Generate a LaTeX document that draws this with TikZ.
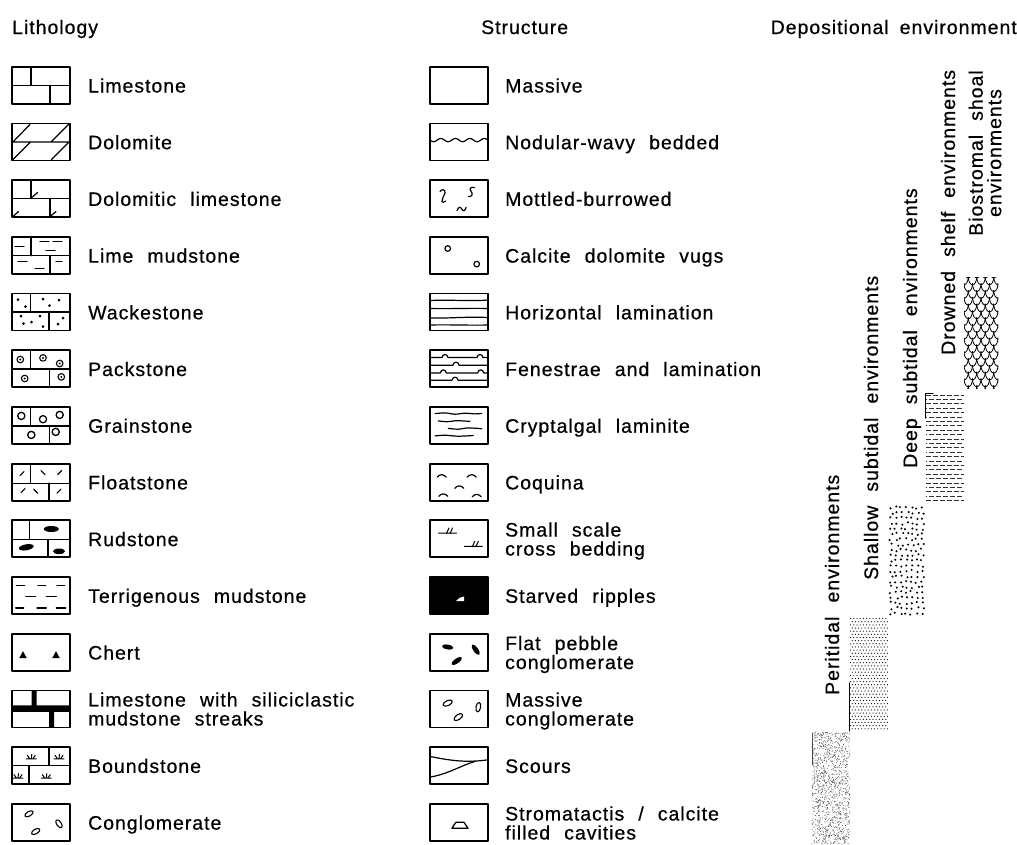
\documentclass[tikz,border=0pt]{standalone}
\usepackage{fontspec}
\setmainfont{Liberation Sans}[LetterSpace=5,WordSpace=2.2,FakeBold=0.6]
\newcommand\brk[3]{\draw[ln] (0,#1)--(58,#1) (#2,0)--(#2,#1) (#3,#1)--(#3,37);}
\newcommand\dt[2]{\fill (#1,#2) circle (1.5);}
\newcommand\pring[2]{\draw[line width=1.1pt] (#1,#2) circle (3.3); \fill (#1,#2) circle (1.1);}
\newcommand\gring[2]{\draw[line width=1.3pt] (#1,#2) circle (3.6);}
\newcommand\fsl[3]{\draw[line width=1.2pt] (#1-2,#2+2*#3) -- (#1+2,#2-2*#3);}
\newcommand\hd[3]{\draw[ln] (#1,#3)--(#2,#3);}
\newcommand\tuft[2]{\draw[line width=1pt] (#1-5,#2)--(#1+5,#2) (#1-1.5,#2)--(#1-4,#2-3.5) (#1,#2)--(#1+0.5,#2-4.5) (#1+1.5,#2)--(#1+4,#2-3.5);}
\newcommand\xbed[2]{\draw[line width=1pt] (#1-9,#2)--(#1+9,#2) (#1-1,#2+0.5) .. controls (#1,#2-2) .. (#1+1.5,#2-5) (#1+2.5,#2+0.5) .. controls (#1+3.5,#2-2) .. (#1+5,#2-5);}
\newcommand\carc[2]{\draw[ln] (#1-4.5,#2+1.2) .. controls (#1-2,#2-2) and (#1+2,#2-2) .. (#1+4.5,#2+1.2);}
\begin{document}
\begin{tikzpicture}[x=1pt,y=-1pt,
  line cap=round, line join=round,
  box/.style={line width=1.8pt},
  ln/.style={line width=1.2pt},
  lrow/.style={shift={(12,#1)}},
  srow/.style={shift={(430,#1)}},
  lab/.style={font=\fontsize{19.5}{19}\selectfont, inner sep=0pt, anchor=base west},
  labtwo/.style={font=\fontsize{19.5}{19}\selectfont, inner sep=0pt, anchor=west, align=left},
  head/.style={font=\fontsize{19.5}{19}\selectfont, inner sep=0pt},
  env/.style={font=\fontsize{19.5}{19}\selectfont, inner sep=0pt, rotate=90, anchor=base west},
  envtwo/.style={font=\fontsize{19.5}{18.5}\selectfont, inner sep=0pt, rotate=90, anchor=center, align=center}]
\useasboundingbox (0,0) rectangle (1017,844);

% headings
\node[head, anchor=base west] (hlit) at (12,34) {Lithology};
\node[head, anchor=base west] (hstr) at (481,34) {Structure};
\node[head, anchor=base east] (hdep) at (1017,34) {Depositional\hskip 11pt environment};

% ---------- Lithology symbols ----------
\begin{scope}[lrow=66.7]
  \draw[box] (0,0) rectangle (58,37); \brk{18.5}{19}{38}
\end{scope}
\begin{scope}[lrow=123.4]
  \draw[box] (0,0) rectangle (58,37);
  \draw[ln] (0,18.5)--(58,18.5) (1,18.5)--(18,1) (39,18.5)--(56.5,1) (1,36)--(18.5,18.5) (39.5,36)--(57,18.5);
\end{scope}
\begin{scope}[lrow=180.1]
  \draw[box] (0,0) rectangle (58,37); \brk{18.5}{19}{38}
  \draw[ln] (19,18)--(25.5,12.5) (0.8,36.5)--(6.5,31.5) (38,36.5)--(44,31.5);
\end{scope}
\begin{scope}[lrow=236.8]
  \draw[box] (0,0) rectangle (58,37); \brk{19}{19}{38}
  \hd{3}{12}{10} \hd{28}{37}{5} \hd{41}{50}{5} \hd{34}{43}{14}
  \hd{6}{15}{25} \hd{23}{32}{31.5} \hd{44}{50}{24.5}
\end{scope}
\begin{scope}[lrow=293.5]
  \draw[box] (0,0) rectangle (58,37); \brk{18.5}{18.7}{37}
  \dt{6}{6}\dt{13.5}{13}\dt{31}{5.5}\dt{47}{6.5}\dt{37.5}{12}
  \dt{9}{22.5}\dt{28}{22.5}\dt{11.5}{30}\dt{19.5}{28.5}\dt{31}{33}
  \dt{51}{24.5}\dt{46}{30.5}
\end{scope}
\begin{scope}[lrow=350.2]
  \draw[box] (0,0) rectangle (58,37); \brk{18.7}{18.7}{37.7}
  \pring{8.3}{9.3}\pring{31}{7.7}\pring{47.7}{13.3}\pring{12.7}{28.3}\pring{49.3}{26.7}
\end{scope}
\begin{scope}[lrow=406.9]
  \draw[box] (0,0) rectangle (58,37); \brk{19}{18.7}{37.7}
  \gring{9.3}{9}\gring{31}{12.3}\gring{47.7}{8}\gring{19.3}{28}\gring{43.7}{25}
\end{scope}
\begin{scope}[lrow=463.6]
  \draw[box] (0,0) rectangle (58,37); \brk{19.5}{18.7}{37}
  \fsl{10}{10}{1}\fsl{31}{9}{-1}\fsl{47.7}{9}{1}
  \fsl{11}{27}{1}\fsl{23.7}{27.5}{-1}\fsl{47}{27.5}{1}
\end{scope}
\begin{scope}[lrow=520.3]
  \draw[box] (0,0) rectangle (58,37); \brk{19.3}{17.7}{36}
  \fill (39.3,8.7) ellipse [x radius=7.5, y radius=3];
  \fill[rotate around={10:(14.3,27)}] (14.3,27) ellipse [x radius=7.5, y radius=3];
  \fill (47,31) ellipse [x radius=6, y radius=2.8];
\end{scope}
\begin{scope}[lrow=577.0]
  \draw[box] (0,0) rectangle (58,37);
  \hd{4.3}{12.7}{8.7}\hd{26}{33.7}{8.7}\hd{45}{52.7}{8.7}
  \hd{13.7}{23.7}{19.3}\hd{34.3}{44.3}{19.3}
  \hd{3.7}{11.7}{31}\hd{25}{34.3}{31}\hd{44.3}{53.7}{31}
\end{scope}
\begin{scope}[lrow=633.7]
  \draw[box] (0,0) rectangle (58,37);
  \fill (7.2,24.5)--(14.8,24.5)--(11,17.5)--cycle;
  \fill (40.2,24.5)--(47.8,24.5)--(44,17.5)--cycle;
\end{scope}
\begin{scope}[lrow=690.4]
  \draw[box] (0,0) rectangle (58,37);
  \fill (0,15) rectangle (58,21.5) (19.5,0) rectangle (24.5,15) (37,21.5) rectangle (42,37);
\end{scope}
\begin{scope}[lrow=747.1]
  \draw[box] (0,0) rectangle (58,37);
  \draw[ln] (0,18.3)--(58,18.3) (37,0)--(37,18.3) (17,18.3)--(17,37);
  \tuft{19.3}{11.7}\tuft{47}{11.7}\tuft{6}{31}\tuft{34.3}{31}
\end{scope}
\begin{scope}[lrow=803.8]
  \draw[box] (0,0) rectangle (58,37);
  \draw[line width=1.1pt, rotate around={30:(17,10)}] (17,10) ellipse [x radius=4.6, y radius=2.3];
  \draw[line width=1.1pt, rotate around={-55:(47,20)}] (47,20) ellipse [x radius=4.6, y radius=2.3];
  \draw[line width=1.1pt, rotate around={30:(23.7,27.7)}] (23.7,27.7) ellipse [x radius=4.6, y radius=2.3];
\end{scope}

% lithology labels
\node[lab] (l0) at (88,92.5) {Limestone};
\node[lab] (l1) at (88,149.2) {Dolomite};
\node[lab] (l2) at (88,205.9) {Dolomitic limestone};
\node[lab] (l3) at (88,262.6) {Lime mudstone};
\node[lab] (l4) at (88,319.3) {Wackestone};
\node[lab] (l5) at (88,376.0) {Packstone};
\node[lab] (l6) at (88,432.7) {Grainstone};
\node[lab] (l7) at (88,489.4) {Floatstone};
\node[lab] (l8) at (88,546.1) {Rudstone};
\node[lab] (l9) at (88,602.8) {Terrigenous mudstone};
\node[lab] (l10) at (88,659.5) {Chert};
\node[labtwo] (l11) at (88,709) {Limestone with siliciclastic\\mudstone streaks};
\node[lab] (l12) at (88,772.9) {Boundstone};
\node[lab] (l13) at (88,829.6) {Conglomerate};

% ---------- Structure symbols ----------
\begin{scope}[srow=66.7]
  \draw[box] (0,0) rectangle (58,37);
\end{scope}
\begin{scope}[srow=123.4]
  \draw[box] (0,0) rectangle (58,37);
  \draw[ln] plot[domain=0:58, samples=80] (\x, {16.7+1.6*sin(24.83*\x)});
\end{scope}
\begin{scope}[srow=180.1]
  \draw[box] (0,0) rectangle (58,37);
  \draw[line width=1.2pt] (10,11.5) .. controls (11.2,8.5) and (16,9) .. (15,13.2) .. controls (14.2,16.3) and (11.3,18.6) .. (11.9,21.6) .. controls (12.5,22.8) and (14.3,22) .. (15.5,21);
  \draw[line width=1.2pt] (44.5,7.5) .. controls (41,6.2) and (38.6,8.8) .. (41,11.2) .. controls (43.4,13.6) and (42.2,17) .. (38.4,16.4);
  \draw[line width=1.2pt] (27,30.5) .. controls (28.6,26.3) and (30.4,26.3) .. (31.8,29) .. controls (33.2,31.7) and (34.9,31.1) .. (36.1,27.3);
\end{scope}
\begin{scope}[srow=236.8]
  \draw[box] (0,0) rectangle (58,37);
  \draw[line width=1.2pt] (17.7,11.7) circle (2.8) (46.7,27.3) circle (2.8);
\end{scope}
\begin{scope}[srow=293.5]
  \draw[box] (0,0) rectangle (58,37);
  \draw[ln] (0,7) .. controls (20,6) and (40,8) .. (58,6.5);
  \draw[ln] (0,15) .. controls (20,15.5) and (40,14.5) .. (58,15);
  \draw[ln] (0,24.5) .. controls (20,25) and (35,23) .. (58,24);
  \draw[ln] (0,31.5) .. controls (20,31) and (40,32) .. (58,31.5);
\end{scope}
\begin{scope}[srow=350.2]
  \draw[box] (0,0) rectangle (58,37);
  \draw[ln] (0,7.3) -- (12,7.3) .. controls (12.5,3.3) and (17.5,3.3) .. (18,7.3) -- (47,7.3) .. controls (47.5,3.3) and (52.5,3.3) .. (53,7.3) -- (58,7.3);
  \draw[ln] (0,15) -- (23,15) .. controls (23.5,11) and (28.5,11) .. (29,15) -- (58,15);
  \draw[ln] (0,22.7) -- (10.3,22.7) .. controls (10.8,18.7) and (15.8,18.7) .. (16.3,22.7) -- (47.7,22.7) .. controls (48.2,18.7) and (53.2,18.7) .. (53.7,22.7) -- (58,22.7);
  \draw[ln] (0,30) -- (22,30) .. controls (22.5,26) and (27.5,26) .. (28,30) -- (58,30);
\end{scope}
\begin{scope}[srow=406.9]
  \draw[box] (0,0) rectangle (58,37);
  \draw[ln] plot[smooth] coordinates {(5,6.7)(15,6)(25,7.3)(35,6.3)(45,7)(51.7,6.5)};
  \draw[ln] plot[smooth] coordinates {(8.3,14)(17,14.8)(27,13.8)(40,14.5)};
  \draw[ln] plot[smooth] coordinates {(18.3,21.5)(28,22.3)(38,21)(51.7,21.8)};
  \draw[ln] plot[smooth] coordinates {(5,29)(15,28.3)(28,29.3)(43.3,28.6)};
\end{scope}
\begin{scope}[srow=463.6]
  \draw[box] (0,0) rectangle (58,37);
  \carc{11.7}{12.3}\carc{41.7}{12.3}\carc{29.3}{23.5}\carc{13.3}{31.5}\carc{46.7}{32}
\end{scope}
\begin{scope}[srow=520.3]
  \draw[box] (0,0) rectangle (58,37);
  \xbed{17.5}{12.7}\xbed{43.3}{26}
\end{scope}
\begin{scope}[srow=577.0]
  \fill (0,0) rectangle (58,37);
  \draw[box] (0,0) rectangle (58,37);
  \fill[white] (26,24) -- (34,24) -- (34,19.5) .. controls (31,19.5) and (28,21.5) .. (26,24) -- cycle;
\end{scope}
\begin{scope}[srow=633.7]
  \draw[box] (0,0) rectangle (58,37);
  \fill[rotate around={-10:(17.7,13.3)}] (17.7,13.3) ellipse [x radius=5.8, y radius=2.4];
  \fill[rotate around={-55:(45.7,16)}] (45.7,16) ellipse [x radius=6.2, y radius=2.4];
  \fill[rotate around={35:(26.7,27.3)}] (26.7,27.3) ellipse [x radius=6.2, y radius=2.4];
\end{scope}
\begin{scope}[srow=690.4]
  \draw[box] (0,0) rectangle (58,37);
  \draw[line width=1.1pt, rotate around={25:(17.7,12.7)}] (17.7,12.7) ellipse [x radius=5, y radius=2.5];
  \draw[line width=1.1pt, rotate around={-10:(48.3,16.7)}] (48.3,16.7) ellipse [x radius=2.3, y radius=4.8];
  \draw[line width=1.1pt, rotate around={35:(28.3,26.7)}] (28.3,26.7) ellipse [x radius=5, y radius=2.5];
\end{scope}
\begin{scope}[srow=747.1]
  \draw[box] (0,0) rectangle (58,37);
  \draw[ln] (0,9.3) .. controls (18,13) and (35,16) .. (58,12.7);
  \draw[ln] (0,30) .. controls (18,27) and (32,18) .. (45,14.3);
\end{scope}
\begin{scope}[srow=803.8]
  \draw[box] (0,0) rectangle (58,37);
  \draw[line width=1.3pt] (22,24.5) .. controls (23.5,22) and (24.5,20) .. (26,18.5) -- (34,18.5) .. controls (35.5,20.5) and (36.5,22.5) .. (38,24.5) -- cycle;
\end{scope}

% structure labels
\node[lab] (s0) at (505,92.5) {Massive};
\node[lab] (s1) at (505,149.2) {Nodular-wavy bedded};
\node[lab] (s2) at (505,205.9) {Mottled-burrowed};
\node[lab] (s3) at (505,262.6) {Calcite dolomite vugs};
\node[lab] (s4) at (505,319.3) {Horizontal lamination};
\node[lab] (s5) at (505,376.0) {Fenestrae and lamination};
\node[lab] (s6) at (505,432.7) {Cryptalgal laminite};
\node[lab] (s7) at (505,489.4) {Coquina};
\node[labtwo] (s8) at (505,541) {Small scale\\cross bedding};
\node[lab] (s9) at (505,602.8) {Starved ripples};
\node[labtwo] (s10) at (505,654.5) {Flat pebble\\conglomerate};
\node[labtwo] (s11) at (505,711) {Massive\\conglomerate};
\node[lab] (s12) at (505,772.9) {Scours};
\node[labtwo] (s13) at (505,823) {Stromatactis / calcite\\filled cavities};

% ---------- Depositional environment column ----------
% peritidal fine stipple
\pgfmathsetseed{7}
\foreach \i in {1,...,1300}{\fill[black!75] ({812+38*rnd},{732+112*rnd}) circle (0.42);}
\draw[line width=0.9pt, black!70] (812.5,733) -- (812.5,765);
% shallow subtidal regular dots
\foreach \r in {0,...,35}{\foreach \c in {0,...,11}{\fill ({850.6+3.2*\c+1.6*mod(\r,2)},{618.6+3.15*\r}) circle (0.62);}}
\draw[line width=1.2pt] (849.5,683) -- (849.5,731);
% deep subtidal big dots
\pgfmathsetseed{3}
\foreach \r in {0,...,20}{\foreach \c in {0,...,6}{\fill ({890.5+5.2*\c+1.3*mod(\r,2)+1.3*rand},{507.5+5.3*\r+1.3*rand}) circle (1.15);}}
% drowned shelf dashes
\foreach \r in {0,2,...,24}{\draw[black!80, line width=0.9pt, line cap=butt, dash pattern=on 5pt off 2pt] (925.5,{395+4.4*\r}) -- (964,{395+4.4*\r});}
\foreach \r in {1,3,...,23}{\draw[black!80, line width=0.9pt, line cap=butt, dash pattern=on 5pt off 2pt, dash phase=3.5pt] (925.5,{395+4.4*\r}) -- (964,{395+4.4*\r});}
\draw[line width=1.2pt] (933,393.5) -- (925.5,393.5) -- (925.5,418);
% biostromal net
\begin{scope}
  \clip (964,277) rectangle (998,388);
  \foreach \j in {0,...,17}{\foreach \i in {-1,...,4}{
    \draw[line width=0.8pt] ({964+8.5*\i+4.25*mod(\j,2)},{270+6.8*\j}) .. controls +(0.3,10.5) and +(-0.3,10.5) .. +(8.5,0);}}
\end{scope}

% environment labels
\node[env] (e1) at (839,695) {Peritidal environments};
\node[env] (e2) at (878,580) {Shallow subtidal environments};
\node[env] (e3) at (917,468) {Deep subtidal environments};
\node[env] (e4) at (955,355) {Drowned shelf environments};
\node[envtwo] (e5) at (985,153) {Biostromal shoal\\environments};
\end{tikzpicture}
\end{document}
